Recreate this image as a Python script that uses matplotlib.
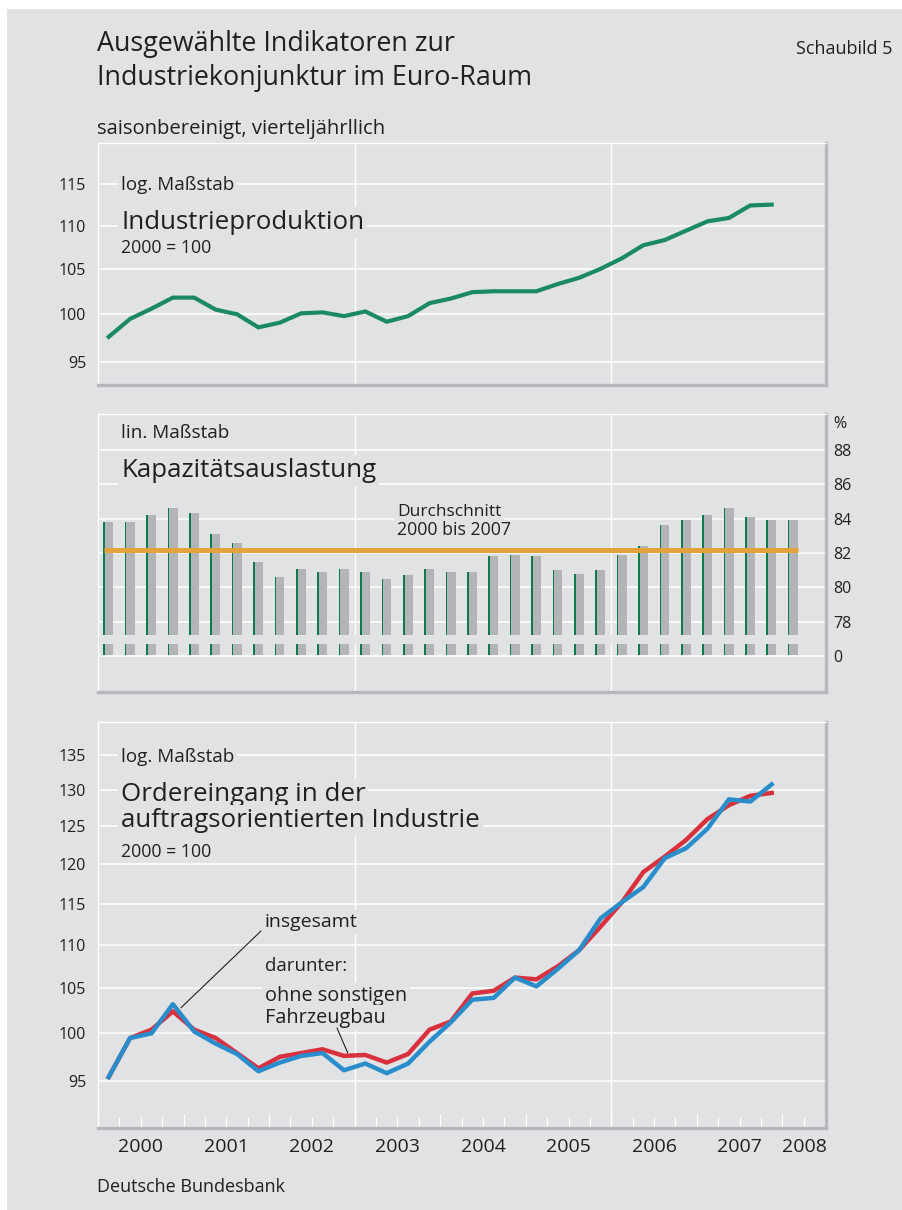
import numpy as np
import matplotlib
matplotlib.use("Agg")
import matplotlib.pyplot as plt
from matplotlib.patches import Rectangle
from matplotlib.ticker import NullLocator, FixedLocator

plt.rcParams['font.family'] = ['Open Sans', 'DejaVu Sans']

BG = '#e1e2e4'
SHADOW = '#b7b8bb'
TXT = '#231f20'
GREEN = '#1b8a62'
BAR_GREEN = '#0b7a4c'
BAR_GREY = '#b3b4b7'
ORANGE = '#e4a23c'
RED = '#d8313d'
BLUE = '#2a8dcb'

W, H = 902, 1210

# quarterly values, 2000 Q1 ... 2007 Q4 (capacity up to 2008 Q1)
production = [97.6, 99.5, 100.6, 101.8, 101.8, 100.5, 100.0, 98.6,
              99.1, 100.1, 100.2, 99.8, 100.3, 99.2, 99.8, 101.2,
              101.7, 102.4, 102.5, 102.5, 102.5, 103.3, 104.0, 105.0,
              106.2, 107.7, 108.3, 109.4, 110.5, 110.9, 112.4, 112.5]

capacity = [83.8, 83.8, 84.2, 84.6, 84.3, 83.1, 82.6, 81.5,
            80.6, 81.1, 80.9, 81.1, 80.9, 80.5, 80.7, 81.1,
            80.9, 80.9, 81.8, 81.9, 81.8, 81.0, 80.8, 81.0,
            81.9, 82.4, 83.6, 83.9, 84.2, 84.6, 84.1, 83.9, 83.9]
capacity_avg = 82.2

orders_total = [95.4, 99.5, 100.0, 103.2, 100.2, 98.9, 97.8, 96.0,
                96.9, 97.6, 97.9, 96.1, 96.8, 95.8, 96.8, 99.1,
                101.2, 103.7, 103.9, 106.2, 105.2, 107.2, 109.4, 113.2,
                115.2, 117.1, 120.8, 122.1, 124.7, 128.7, 128.4, 130.8]
orders_excl = [95.4, 99.5, 100.4, 102.4, 100.4, 99.5, 97.9, 96.3,
               97.5, 97.9, 98.3, 97.6, 97.7, 96.9, 97.8, 100.4,
               101.3, 104.4, 104.7, 106.2, 106.0, 107.5, 109.4, 112.2,
               115.2, 119.0, 121.0, 123.2, 126.0, 127.9, 129.2, 129.6]

years = [2000, 2001, 2002, 2003, 2004, 2005, 2006, 2007, 2008]
prod_ticks = [95, 100, 105, 110, 115]
orders_ticks = [95, 100, 105, 110, 115, 120, 125, 130, 135]
cap_labels = ['0', '78', '80', '82', '84', '86', '88']
cap_pos = [76, 78, 80, 82, 84, 86, 88]   # "0" sits on the axis break


def quarters(n):
    return 2000 + (np.arange(n) + 0.5) / 4


def fx(x):
    return x / W


def fy(y):
    return 1 - y / H


fig = plt.figure(figsize=(W / 100, H / 100), dpi=100)
fig.patch.set_facecolor('white')
fig.add_artist(Rectangle((fx(7), 0), 1, fy(9), transform=fig.transFigure,
                         facecolor=BG, edgecolor='none', zorder=-10))

XMAX = 2008.51


def panel(top, bottom):
    ax = fig.add_axes([fx(98), fy(bottom), fx(826) - fx(98), (bottom - top) / H])
    ax.set_facecolor('none')
    ax.set_xlim(2000, XMAX)
    for s in ['top', 'left']:
        ax.spines[s].set_color('white')
        ax.spines[s].set_linewidth(1.0)
    for s in ['right', 'bottom']:
        ax.spines[s].set_color(SHADOW)
        ax.spines[s].set_linewidth(2.4)
    for v in (2003, 2006):
        ax.axvline(v, color='white', lw=1.0, zorder=1)
    ax.xaxis.set_major_locator(NullLocator())
    ax.xaxis.set_minor_locator(NullLocator())
    ax.tick_params(axis='y', length=0, labelsize=11.5, labelcolor=TXT, pad=8.6)
    return ax


def label(ax, x, y, s, size, box=True, **kw):
    bbox = dict(facecolor=BG, edgecolor='none', pad=2) if box else None
    ax.text(fx(x), fy(y), s, transform=fig.transFigure, fontsize=size,
            color=TXT, va='baseline', bbox=bbox, zorder=3, **kw)


# titles
fig.text(fx(97), fy(51), 'Ausgewählte Indikatoren zur', fontsize=19.4, color=TXT, va='baseline')
fig.text(fx(97), fy(85), 'Industriekonjunktur im Euro-Raum', fontsize=19.4, color=TXT, va='baseline')
fig.text(fx(892), fy(54), 'Schaubild 5', fontsize=13, color=TXT, va='baseline', ha='right')
fig.text(fx(97), fy(134), 'saisonbereinigt, vierteljährllich', fontsize=14.6, color=TXT, va='baseline')
fig.text(fx(97), fy(1192), 'Deutsche Bundesbank', fontsize=13, color=TXT, va='baseline')

# --- Industrieproduktion
ax1 = panel(143, 385)
ax1.set_yscale('log')
ax1.set_ylim(92.68, 120.2)
ax1.yaxis.set_major_locator(FixedLocator(prod_ticks))
ax1.yaxis.set_minor_locator(NullLocator())
ax1.set_yticklabels([str(t) for t in prod_ticks])
for t in prod_ticks:
    ax1.axhline(t, color='white', lw=1.1, zorder=1)
ax1.plot(quarters(len(production)), production, color=GREEN, lw=3.0,
         solid_joinstyle='miter', zorder=4)
label(ax1, 121, 190, 'log. Maßstab', 13.6)
label(ax1, 121, 229, 'Industrieproduktion', 18.6)
label(ax1, 121, 253, '2000 = 100', 12.8, box=False)

# --- Kapazitätsauslastung
ax2 = panel(414, 692)
ax2.set_ylim(73.94, 90.06)
ax2.yaxis.tick_right()
ax2.set_yticks(cap_pos)
ax2.set_yticklabels(cap_labels)
ax2.tick_params(axis='y', pad=5)
for t in cap_pos:
    ax2.axhline(t, color='white', lw=1.1, zorder=1)
ax2.axhspan(76.72, 77.25, color=BG, zorder=1.5, lw=0)
xq = quarters(len(capacity))
cap = np.array(capacity)
bw = 0.109
gw = 0.019
ax2.bar(xq, cap - 77.25, bottom=77.25, width=bw, color=BAR_GREY, zorder=2)
ax2.bar(xq, 0.63, bottom=76.09, width=bw, color=BAR_GREY, zorder=2)
ax2.bar(xq - 0.061, cap - 77.25, bottom=77.25, width=gw, align='edge', color=BAR_GREEN, zorder=2.5)
ax2.bar(xq - 0.061, 0.63, bottom=76.09, width=gw, align='edge', color=BAR_GREEN, zorder=2.5)
ax2.hlines(capacity_avg, xq[0] - 0.06, xq[-1] + 0.06, color=ORANGE, lw=3.6, zorder=4)
label(ax2, 121, 438, 'lin. Maßstab', 13.6)
label(ax2, 121, 477, 'Kapazitätsauslastung', 18.6)
label(ax2, 397, 516, 'Durchschnitt', 12.5)
label(ax2, 397, 535, '2000 bis 2007', 12.8, box=False)
fig.text(fx(833), fy(428), '%', fontsize=11.5, color=TXT, va='baseline')

# --- Ordereingang
ax3 = panel(722, 1128)
ax3.set_yscale('log')
ax3.set_ylim(90.3, 139.9)
ax3.yaxis.set_major_locator(FixedLocator(orders_ticks))
ax3.yaxis.set_minor_locator(NullLocator())
ax3.set_yticklabels([str(t) for t in orders_ticks])
for t in orders_ticks:
    ax3.axhline(t, color='white', lw=1.1, zorder=1)
xo = quarters(len(orders_total))
ax3.plot(xo, orders_excl, color=RED, lw=3.2, zorder=4)
ax3.plot(xo, orders_total, color=BLUE, lw=3.2, zorder=5)

ax3.xaxis.set_major_locator(FixedLocator(years))
ax3.xaxis.set_minor_locator(FixedLocator([y + q / 4 for y in years for q in (1, 2, 3)]))
ax3.tick_params(axis='x', which='major', direction='in', length=10, width=0.9,
                color='white', labelbottom=False)
ax3.tick_params(axis='x', which='minor', direction='in', length=8, width=0.9,
                color='white', labelbottom=False)
tr = ax3.get_xaxis_transform()
for y in years:
    xc = min(y + 0.5, (y + XMAX) / 2)
    ax3.text(xc, -0.047, str(y), transform=tr, ha='center', va='center',
             fontsize=14, color=TXT)

label(ax3, 121, 762, 'log. Maßstab', 13.6)
label(ax3, 121, 801, 'Ordereingang in der', 18.6)
label(ax3, 121, 827, 'auftragsorientierten Industrie', 18.6)
label(ax3, 121, 857, '2000 = 100', 12.8, box=False)
label(ax3, 265, 927, 'insgesamt', 14)
label(ax3, 265, 971, 'darunter:', 13.4)
label(ax3, 265, 1001, 'ohne sonstigen', 14.3)
label(ax3, 265, 1023, 'Fahrzeugbau', 14.3)
ax3.annotate('', xy=(2000.97, 102.8), xytext=(fx(261), fy(931)),
             textcoords='figure fraction',
             arrowprops=dict(arrowstyle='-', color=TXT, lw=0.8, shrinkA=0, shrinkB=0),
             zorder=6)
ax3.annotate('', xy=(2002.92, 97.9), xytext=(fx(337), fy(1028)),
             textcoords='figure fraction',
             arrowprops=dict(arrowstyle='-', color=TXT, lw=0.8, shrinkA=0, shrinkB=0),
             zorder=6)

fig.savefig('out.png', dpi=100, facecolor=fig.get_facecolor())
